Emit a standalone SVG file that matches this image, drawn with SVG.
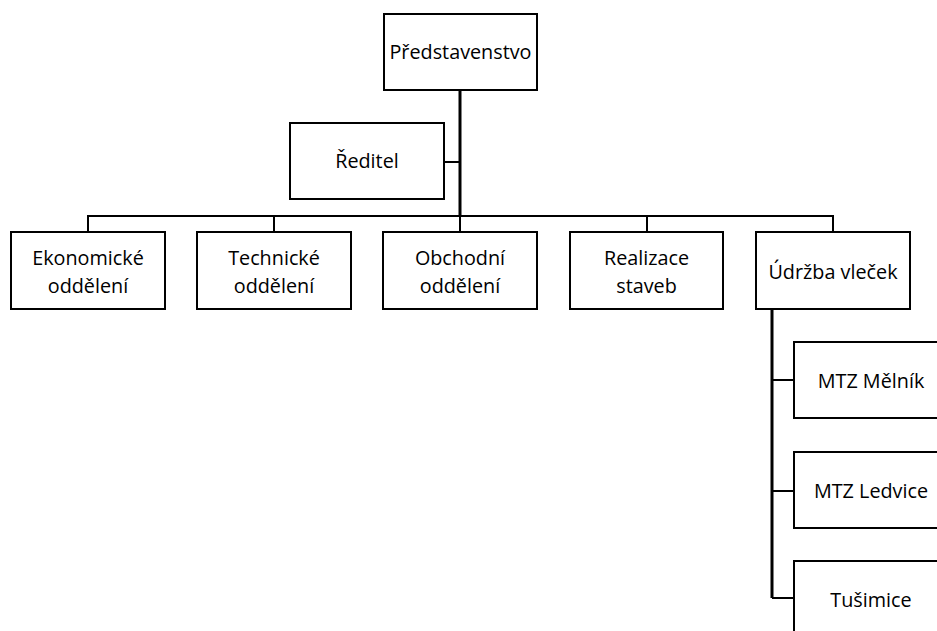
<svg xmlns="http://www.w3.org/2000/svg" width="937" height="631" viewBox="0 0 937 631">
<style>
rect{fill:#fff;stroke:#000;stroke-width:2}
.c{fill:none;stroke:#000;stroke-width:2}
.t{stroke-width:3}
text{font-family:"Open Sans","Noto Sans","Liberation Sans",sans-serif;font-size:19.8px;fill:#000;text-anchor:middle}
</style>
<rect width="937" height="631" style="stroke:none"/>
<g id="connectors">
<path class="c t" d="M460 90V216"/>
<path class="c" d="M444 162H460"/>
<path class="c" d="M88 232V216H833V232"/>
<path class="c" d="M274 216V232M460 216V232M647 216V232"/>
<path class="c t" d="M772 309V598"/>
<path class="c" d="M772 598H794M772 380H794M772 491H794"/>
</g>
<g id="n-predstavenstvo"><rect x="384" y="14" width="153" height="76"/><text x="460.5" y="59">Představenstvo</text></g>
<g id="n-reditel"><rect x="290" y="123" width="154" height="76"/><text x="367" y="168">Ředitel</text></g>
<g id="n-ekonomicke"><rect x="11" y="232" width="154" height="77"/><text x="88" y="265">Ekonomické</text><text x="88" y="292.5">oddělení</text></g>
<g id="n-technicke"><rect x="197" y="232" width="154" height="77"/><text x="274" y="265">Technické</text><text x="274" y="292.5">oddělení</text></g>
<g id="n-obchodni"><rect x="383" y="232" width="154" height="77"/><text x="460" y="265">Obchodní</text><text x="460" y="292.5">oddělení</text></g>
<g id="n-realizace"><rect x="570" y="232" width="153" height="77"/><text x="646.5" y="265">Realizace</text><text x="646.5" y="292.5">staveb</text></g>
<g id="n-udrzba"><rect x="756" y="232" width="154" height="77"/><text x="833" y="279">Údržba vleček</text></g>
<g id="n-melnik"><rect x="794" y="342" width="154" height="76"/><text x="871" y="388">MTZ Mělník</text></g>
<g id="n-ledvice"><rect x="794" y="452" width="154" height="76"/><text x="871" y="498">MTZ Ledvice</text></g>
<g id="n-tusimice"><rect x="794" y="561" width="154" height="76"/><text x="871" y="607">Tušimice</text></g>
</svg>
